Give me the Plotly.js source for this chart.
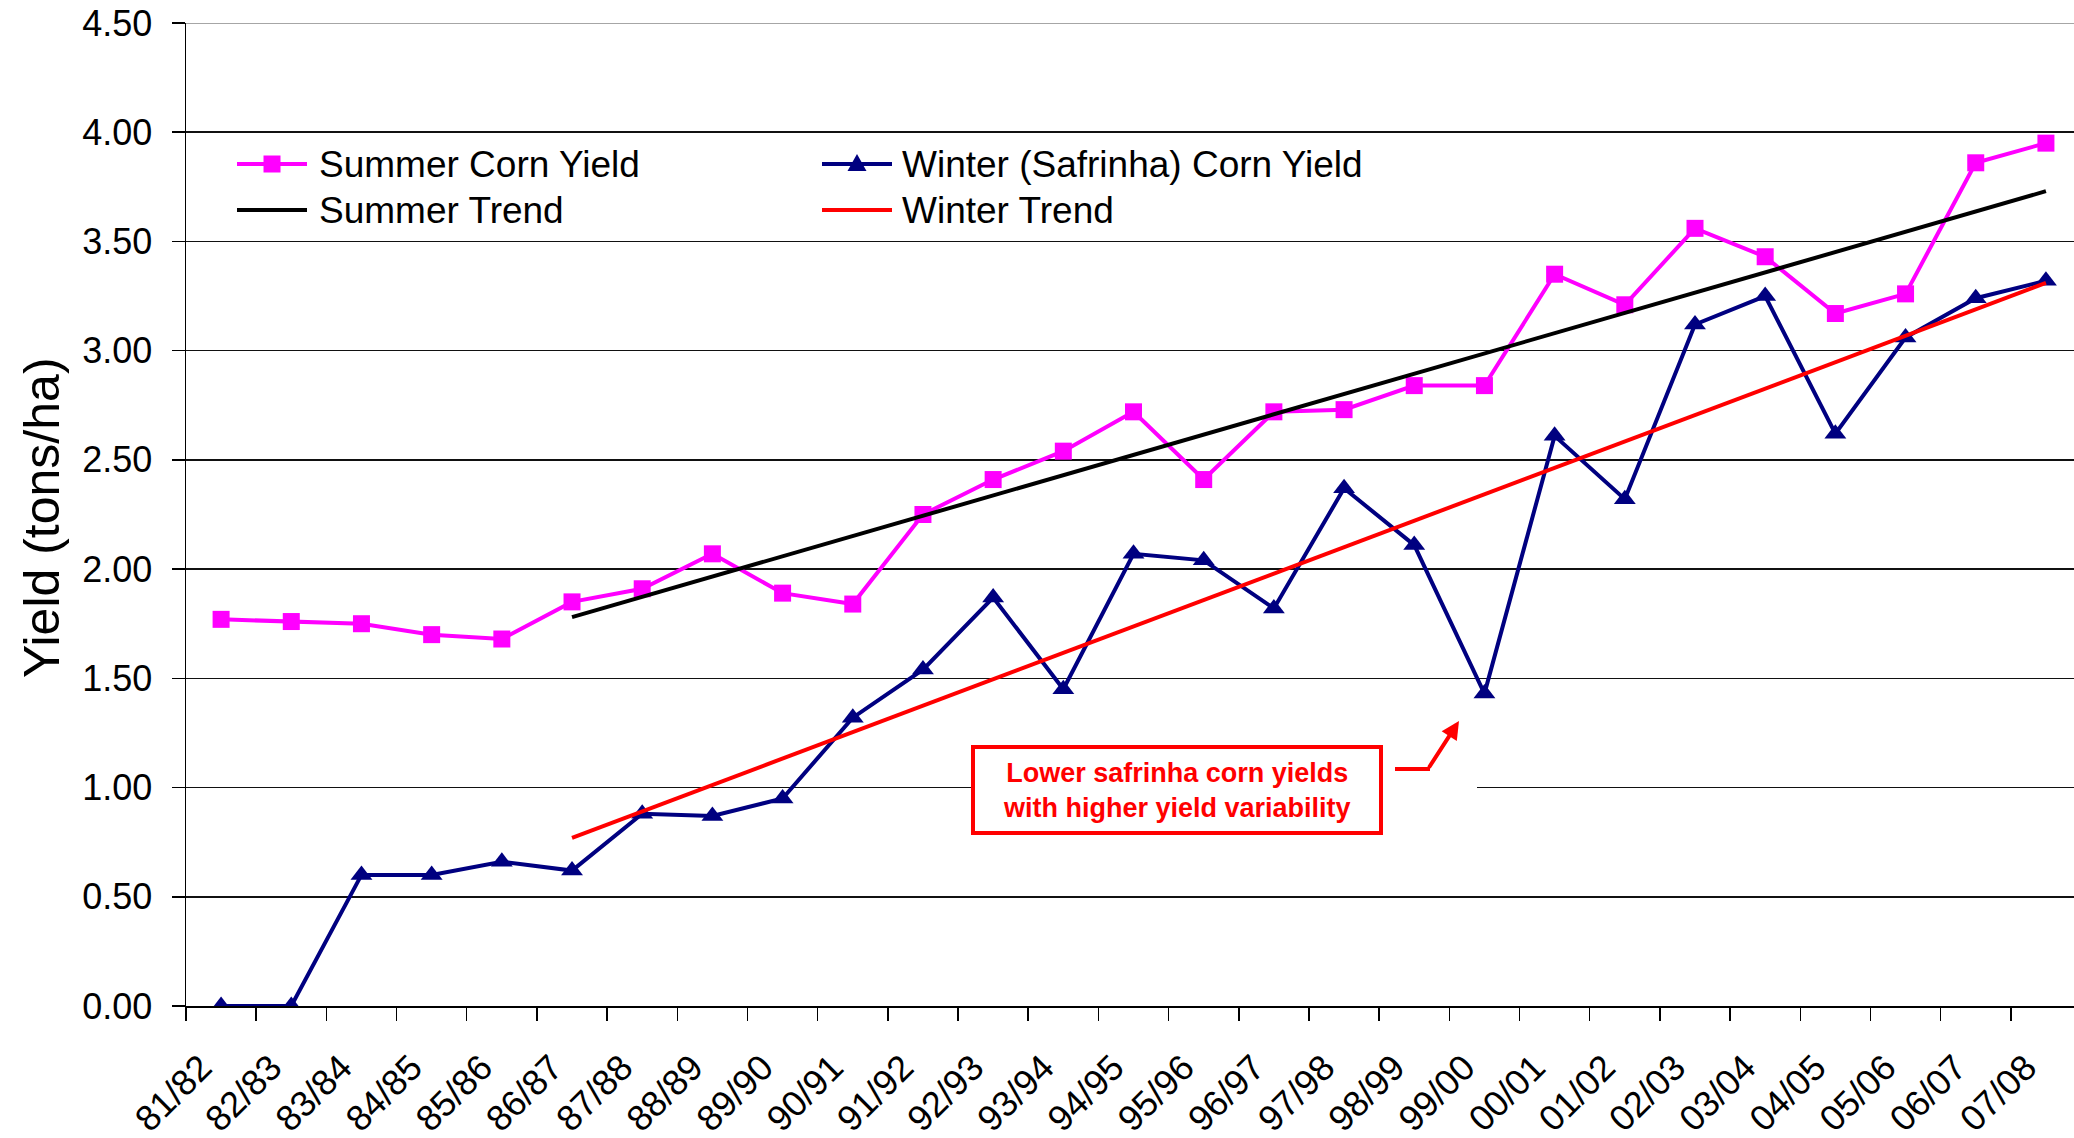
<!DOCTYPE html>
<html>
<head>
<meta charset="utf-8">
<script src="https://cdn.plot.ly/plotly-3.0.1.min.js"></script>
<style>
  html, body { margin: 0; padding: 0; background: #fff; }
  #chart { width: 2074px; height: 1138px; }
</style>
</head>
<body>
<div id="chart"></div>
<script>
// ---- data ----
const seasons = ['81/82','82/83','83/84','84/85','85/86','86/87','87/88','88/89','89/90','90/91',
                 '91/92','92/93','93/94','94/95','95/96','96/97','97/98','98/99','99/00','00/01',
                 '01/02','02/03','03/04','04/05','05/06','06/07','07/08'];
const summerYield = [1.77,1.76,1.75,1.70,1.68,1.85,1.91,2.07,1.89,1.84,
                     2.25,2.41,2.54,2.72,2.41,2.72,2.73,2.84,2.84,3.35,
                     3.21,3.56,3.43,3.17,3.26,3.86,3.95];
const winterYield = [0.00,0.00,0.60,0.60,0.66,0.62,0.88,0.87,0.95,1.32,
                     1.54,1.87,1.45,2.07,2.04,1.82,2.37,2.11,1.43,2.61,
                     2.32,3.12,3.25,2.62,3.06,3.24,3.32];
const trendSeasons = ['86/87','07/08'];
const summerTrend = [1.78, 3.73];
const winterTrend = [0.77, 3.31];
const yTicks = [0, 0.5, 1, 1.5, 2, 2.5, 3, 3.5, 4, 4.5];

const FONT = 'Liberation Sans, Arial, sans-serif';
const W = 2074, H = 1138;
const M = {l: 186, r: 0, t: 23, b: 132};
const PW = W - M.l - M.r, PH = H - M.t - M.b;
const px = v => (v - M.l) / PW;          // pixel -> paper x
const py = v => (H - M.b - v) / PH;      // pixel -> paper y

const traces = [
  {x: seasons, y: summerYield, name: 'Summer Corn Yield', type: 'scatter', mode: 'lines+markers',
   line: {color: '#FF00FF', width: 4}, marker: {symbol: 'square', size: 17, color: '#FF00FF'}},
  {x: seasons, y: winterYield, name: 'Winter (Safrinha) Corn Yield', type: 'scatter', mode: 'lines+markers',
   line: {color: '#000080', width: 4}, marker: {symbol: 'triangle-up', size: 19, color: '#000080'}},
  {x: trendSeasons, y: summerTrend, name: 'Summer Trend', type: 'scatter', mode: 'lines',
   line: {color: '#000000', width: 4}},
  {x: trendSeasons, y: winterTrend, name: 'Winter Trend', type: 'scatter', mode: 'lines',
   line: {color: '#FF0000', width: 4}}
];

// custom legend (long sample lines like the original)
const legendItems = [
  {name: 'Summer Corn Yield', color: '#FF00FF', marker: 'square', x0: 237, x1: 307, tx: 317, y: 164},
  {name: 'Summer Trend', color: '#000000', marker: null, x0: 237, x1: 307, tx: 317, y: 210},
  {name: 'Winter (Safrinha) Corn Yield', color: '#000080', marker: 'triangle', x0: 822, x1: 892, tx: 900, y: 164},
  {name: 'Winter Trend', color: '#FF0000', marker: null, x0: 822, x1: 892, tx: 900, y: 210}
];

const shapes = [];
const annotations = [];
legendItems.forEach(it => {
  shapes.push({type: 'line', xref: 'paper', yref: 'paper', x0: px(it.x0), x1: px(it.x1),
               y0: py(it.y), y1: py(it.y), line: {color: it.color, width: 4}});
  const cx = px((it.x0 + it.x1) / 2), cy = py(it.y);
  if (it.marker === 'square') {
    shapes.push({type: 'rect', xref: 'paper', yref: 'paper', xsizemode: 'pixel', ysizemode: 'pixel',
                 xanchor: cx, yanchor: cy, x0: -8.5, x1: 8.5, y0: -8.5, y1: 8.5,
                 fillcolor: it.color, line: {width: 0}});
  } else if (it.marker === 'triangle') {
    shapes.push({type: 'path', xref: 'paper', yref: 'paper', xsizemode: 'pixel', ysizemode: 'pixel',
                 xanchor: cx, yanchor: cy, path: 'M -9.5 -7 L 9.5 -7 L 0 10 Z',
                 fillcolor: it.color, line: {width: 0}});
  }
  annotations.push({xref: 'paper', yref: 'paper', x: px(it.tx), y: cy, xanchor: 'left', yanchor: 'middle',
                    text: it.name, showarrow: false, font: {family: FONT, size: 37, color: '#000'}});
});

// top border (4.50) in grey
shapes.push({type: 'line', xref: 'paper', yref: 'y', x0: 0, x1: 1, y0: 4.5, y1: 4.5,
             line: {color: '#a6a6a6', width: 2}});

// callout box
shapes.push({type: 'rect', xref: 'paper', yref: 'paper', x0: px(973), x1: px(1477), y0: py(842), y1: py(742),
             fillcolor: '#ffffff', line: {width: 0}, layer: 'above'});
shapes.push({type: 'rect', xref: 'paper', yref: 'paper', x0: px(973), x1: px(1381), y0: py(833), y1: py(747),
             fillcolor: '#ffffff', line: {color: '#FF0000', width: 4}, layer: 'above'});
shapes.push({type: 'line', xref: 'paper', yref: 'paper', x0: px(1395), x1: px(1430), y0: py(769), y1: py(769),
             line: {color: '#FF0000', width: 4}, layer: 'above'});
annotations.push({xref: 'paper', yref: 'paper', x: px(1177), y: py(790.5), xanchor: 'center', yanchor: 'middle',
                  text: 'Lower safrinha corn yields<br>with higher yield variability', showarrow: false,
                  font: {family: FONT, size: 27, color: '#FF0000', weight: 700}});
annotations.push({xref: 'paper', yref: 'paper', x: px(1459), y: py(721), text: '', showarrow: true,
                  axref: 'pixel', ayref: 'pixel', ax: -31, ay: 48, arrowhead: 2, arrowsize: 0.9,
                  arrowwidth: 4, arrowcolor: '#FF0000', standoff: 0});

// y axis title
annotations.push({xref: 'paper', yref: 'paper', x: px(42), y: py(518), xanchor: 'center', yanchor: 'middle',
                  text: 'Yield (tons/ha)', textangle: -90, showarrow: false,
                  font: {family: FONT, size: 50, color: '#000'}});

const layout = {
  width: W, height: H,
  margin: M,
  paper_bgcolor: '#ffffff', plot_bgcolor: '#ffffff',
  showlegend: false,
  font: {family: FONT, color: '#000'},
  xaxis: {
    type: 'category', categoryorder: 'array', categoryarray: seasons,
    range: [-0.5, 26.4], tickson: 'boundaries', ticks: 'outside', ticklen: 13, tickwidth: 1.5, tickcolor: '#000',
    tickangle: -45, tickfont: {family: FONT, size: 36, color: '#000'}, ticklabelstandoff: 24,
    ticklabelshift: -20,
    showline: true, linecolor: '#000', linewidth: 2, showgrid: false, zeroline: false
  },
  yaxis: {
    range: [0, 4.5], tickvals: yTicks, tickformat: '.2f', ticks: 'outside', ticklen: 13, tickwidth: 1.5,
    tickcolor: '#000', tickfont: {family: FONT, size: 36, color: '#000'}, ticklabelstandoff: 12,
    showline: true, linecolor: '#000', linewidth: 1.5, showgrid: true, gridcolor: '#111', gridwidth: 1.5,
    zeroline: false
  },
  shapes: shapes,
  annotations: annotations
};

Plotly.newPlot('chart', traces, layout, {staticPlot: true});
</script>
</body>
</html>
